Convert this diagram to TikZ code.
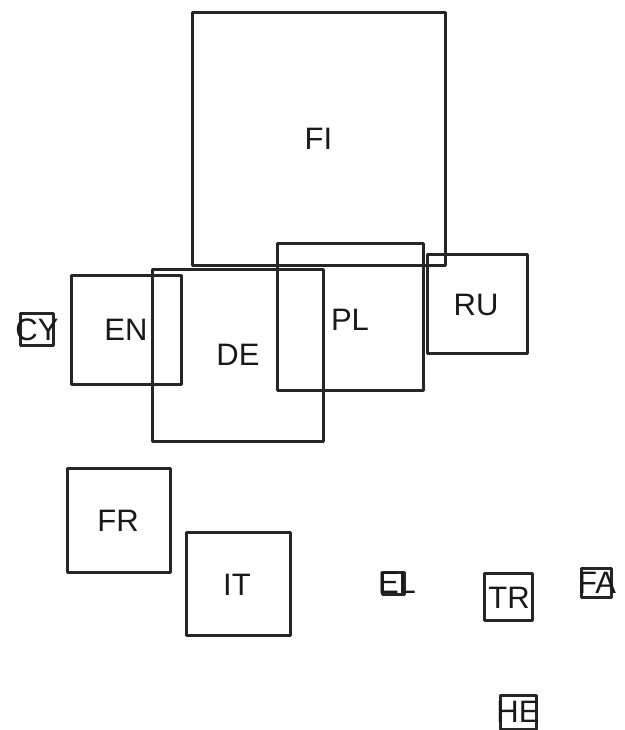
\documentclass[tikz,border=0pt]{standalone}
\usepackage{fontspec}
\setmainfont{Liberation Sans}
\begin{document}
\begin{tikzpicture}[x=1pt,y=-1pt,
  sq/.style={draw=black!85,line width=3pt,rectangle,inner sep=0pt,line join=round},
  lab/.style={inner sep=0pt,font=\fontsize{31}{31}\selectfont,text=black!90}]
\useasboundingbox (0,0) rectangle (624,730);
% squares
\node[sq,minimum width=253pt,minimum height=252pt] (FI) at (318.5,139) {};
\node[sq,minimum width=110pt,minimum height=109pt] (EN) at (126,329.5) {};
\node[sq,minimum width=171pt,minimum height=172pt] (DE) at (237.5,355) {};
\node[sq,minimum width=146pt,minimum height=147pt] (PL) at (350,316.5) {};
\node[sq,minimum width=100pt,minimum height=99pt] (RU) at (477,303.5) {};
\node[sq,minimum width=103pt,minimum height=104pt] (FR) at (118.5,520) {};
\node[sq,minimum width=104pt,minimum height=103pt] (IT) at (238,583.5) {};
\node[sq,minimum width=33pt,minimum height=32pt] (CY) at (37,329) {};
\node[sq,minimum width=48pt,minimum height=47pt] (TR) at (508,596.5) {};
\node[sq,minimum width=22pt,minimum height=22pt] (EL) at (393,583) {};
\node[sq,minimum width=30pt,minimum height=29pt] (FA) at (596,583) {};
\node[sq,minimum width=36pt,minimum height=34pt] (HE) at (518,712) {};
% labels
\node[lab] (tFI) at (FI.center) {FI};
\node[lab] (tEN) at (126,330) {EN};
\node[lab] (tDE) at (238,355) {DE};
\node[lab] (tPL) at (350,320) {PL};
\node[lab] (tRU) at (476,305) {RU};
\node[lab] (tFR) at (118,521) {FR};
\node[lab] (tIT) at (237,585) {IT};
\node[lab] (tCY) at (37,330) {CY};
\node[lab] (tTR) at (509,598) {TR};
\node[lab] (tEL) at (397,583) {EL};
\node[lab] (tFA) at (597,583) {FA};
\node[lab] (tHE) at (518,712) {HE};
\end{tikzpicture}
\end{document}
